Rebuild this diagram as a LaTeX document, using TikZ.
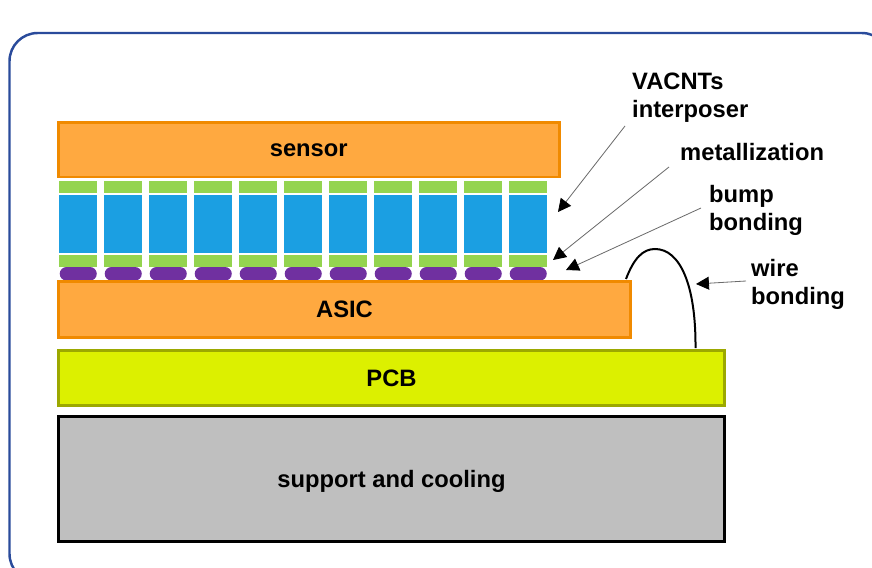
\documentclass[tikz,border=0pt]{standalone}
\usepackage{fontspec}
\setmainfont{Liberation Sans}
\usetikzlibrary{arrows.meta, positioning}
\definecolor{cframe}{HTML}{2A4B9B}
\definecolor{corange}{HTML}{FFA940}
\definecolor{cedge}{HTML}{F08A00}
\definecolor{cgreen}{HTML}{94D450}
\definecolor{cblue}{HTML}{1B9FE2}
\definecolor{cpurple}{HTML}{7030A0}
\definecolor{cpcb}{HTML}{DCF000}
\definecolor{cpcbedge}{HTML}{9CA800}
\definecolor{cgrey}{HTML}{BFBFBF}
\definecolor{cleader}{HTML}{6B6B6B}
\tikzset{
  every picture/.style={font=\bfseries\fontsize{20.2pt}{23.8pt}\selectfont},
  layer/.style={draw=#1, line width=2.2pt, anchor=north west, inner sep=0pt, align=center},
  metal/.style={fill=cgreen, anchor=north west, inner sep=0pt, minimum width=32pt, minimum height=10.4pt},
  cnt/.style={fill=cblue, anchor=north west, inner sep=0pt, minimum width=32pt, minimum height=49.4pt},
  bump/.style={fill=cpurple, rounded corners=5.7pt, anchor=north west, inner sep=0pt, minimum width=31.5pt, minimum height=11.5pt},
  leader/.style={-{Triangle[length=11pt, width=11pt, color=black]}, draw=cleader, line width=0.7pt},
  note/.style={align=left, anchor=north west, inner sep=0pt},
}
\begin{document}
\begin{tikzpicture}[x=0.851pt, y=-0.851pt]
  \useasboundingbox (0,0) rectangle (872,568);
  % frame
  \draw[cframe, line width=2.1pt, rounded corners=24pt] (9.5,582) -- (9.5,33) -- (890,33) -- (890,582) -- cycle;
  % layers
  \node[layer=cedge, fill=corange, minimum width=426.3pt, minimum height=46.7pt] (sensor) at (57,121) {sensor};
  \foreach \i in {0,...,10} {
    \node[metal] (top\i) at (59+45*\i,181) {};
    \node[cnt] (cnt\i) at (59+45*\i,195) {};
    \node[metal] (bot\i) at (59+45*\i,255) {};
    \node[bump] (bump\i) at (59.5+45*\i,266.8) {};
  }
  \node[layer=cedge, fill=corange, minimum width=487.1pt, minimum height=48pt] (asic) at (57,280) {ASIC};
  \node[layer=cpcbedge, fill=cpcb, minimum width=567.1pt, minimum height=47.1pt] (pcb) at (57,349) {PCB};
  \node[layer=black, fill=cgrey, minimum width=567.1pt, minimum height=106.7pt, text depth=0pt] (support) at (57,415) {support and cooling};
  % wire
  \coordinate (wirea) at (626,279);
  \coordinate (wirec) at (655,249);
  \coordinate (wireb) at (695.5,348);
  \draw[black, line width=1.7pt] (wirea) .. controls (634,258) and (643,249) .. (wirec) .. controls (680,249) and (696,285) .. (wireb);
  % labels
  \node[note] (vacnt) at (632,73) {VACNTs\\interposer};
  \node[note] (metallization) at (680,143) {metallization};
  \node[note] (bump) at (709,185) {bump\\bonding};
  \node[note] (wire) at (751,259) {wire\\bonding};
  % free ends of the leaders
  \coordinate (vacnttip) at (558,212);
  \coordinate (metaltip) at (553,260);
  \coordinate (bumptip) at (566,270);
  \coordinate (wiretip) at (696,284);
  \coordinate (vacntend) at (625,126);
  \coordinate (metalend) at (669,167);
  \coordinate (bumpend) at (701,208);
  \coordinate (wireend) at (746,281);
  \draw[leader] (vacntend) -- (vacnttip);
  \draw[leader] (metalend) -- (metaltip);
  \draw[leader] (bumpend) -- (bumptip);
  \draw[leader] (wireend) -- (wiretip);
\end{tikzpicture}
\end{document}
